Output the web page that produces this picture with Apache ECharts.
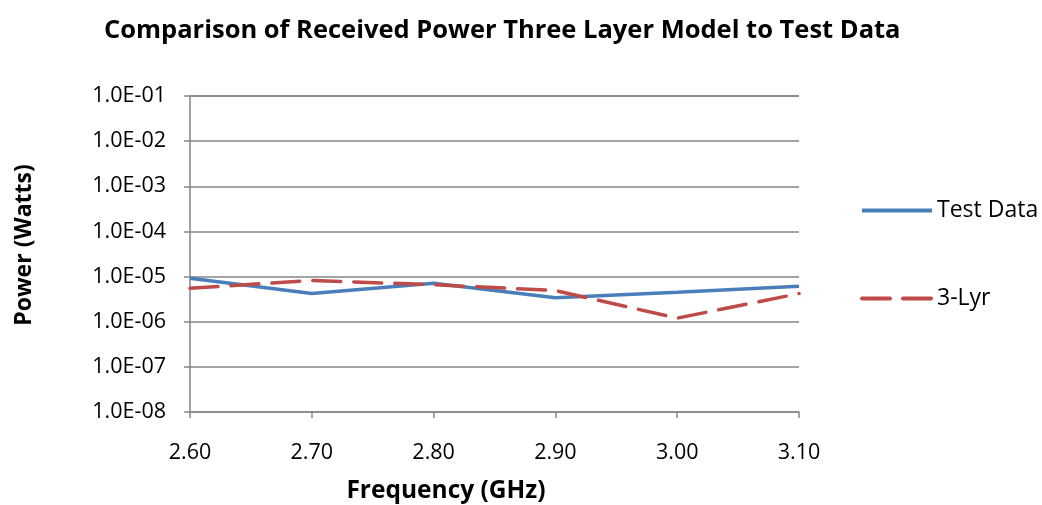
<!DOCTYPE html>
<html>
<head>
<meta charset="utf-8">
<script src="https://cdn.jsdelivr.net/npm/echarts@6/dist/echarts.min.js"></script>
<style>
html,body{margin:0;padding:0;background:#fff;}
#chart{width:1042px;height:505px;}
</style>
</head>
<body>
<div id="chart"></div>
<script>
const categories = ['2.60', '2.70', '2.80', '2.90', '3.00', '3.10'];
const testData = [9.2e-6, 4.2e-6, 7.1e-6, 3.4e-6, 4.5e-6, 6.1e-6];
const threeLyr = [5.5e-6, 8.2e-6, 6.6e-6, 4.9e-6, 1.2e-6, 4.2e-6];
const seriesNames = ['Test Data', '3-Lyr'];

const FONT = 'Open Sans';
function fmtExp(v) {
  const e = Math.round(Math.log10(v));
  const m = v / Math.pow(10, e);
  const sign = e < 0 ? '-' : '+';
  const abs = Math.abs(e);
  return m.toFixed(1) + 'E' + sign + (abs < 10 ? '0' + abs : '' + abs);
}

const chart = echarts.init(document.getElementById('chart'));
chart.setOption({
  backgroundColor: '#ffffff',
  animation: false,
  title: {
    text: 'Comparison of Received Power Three Layer Model to Test Data',
    left: 104,
    top: 18,
    padding: 0,
    textStyle: { fontFamily: FONT, fontWeight: 'bold', fontSize: 25.5, color: '#000' }
  },
  legend: {
    orient: 'vertical',
    left: 860,
    top: 199,
    padding: 0,
    itemWidth: 70,
    itemHeight: 24,
    itemGap: 65,
    data: seriesNames,
    itemStyle: { color: 'transparent', borderWidth: 0 },
    lineStyle: { width: 4 },
    textStyle: { fontFamily: FONT, fontSize: 23, color: '#000', padding: [0, 0, 0, 0] }
  },
  grid: { left: 190, right: 243, top: 96, bottom: 93, containLabel: false, outerBoundsMode: 'none' },
  xAxis: {
    type: 'category',
    data: categories,
    boundaryGap: false,
    name: 'Frequency (GHz)',
    nameLocation: 'middle',
    nameGap: 67,
    nameTextStyle: { fontFamily: FONT, fontWeight: 'bold', fontSize: 24.5, color: '#000', padding: [0, 97, 0, 0] },
    axisLine: { lineStyle: { color: '#868686', width: 1.5 } },
    axisTick: { show: true, length: 6, lineStyle: { color: '#868686', width: 1.5 } },
    axisLabel: { margin: 30, fontFamily: FONT, fontSize: 21.5, color: '#000' },
    splitLine: { show: false }
  },
  yAxis: {
    type: 'log',
    logBase: 10,
    min: 1e-8,
    max: 1e-1,
    name: 'Power (Watts)',
    nameLocation: 'middle',
    nameGap: 154,
    nameTextStyle: { fontFamily: FONT, fontWeight: 'bold', fontSize: 23, color: '#000', padding: [0, 0, 0, 18] },
    axisLine: { show: true, lineStyle: { color: '#868686', width: 1.5 } },
    axisTick: { show: true, length: 6, lineStyle: { color: '#868686', width: 1.5 } },
    axisLabel: { margin: 24, fontFamily: FONT, fontSize: 21.5, color: '#000', formatter: fmtExp },
    splitLine: { show: true, lineStyle: { color: '#868686', width: 1.5 } }
  },
  series: [
    {
      name: seriesNames[0],
      type: 'line',
      data: testData,
      symbol: 'none',
      color: '#4a7ebb',
      lineStyle: { color: '#4a7ebb', width: 3.5 }
    },
    {
      name: seriesNames[1],
      type: 'line',
      data: threeLyr,
      symbol: 'none',
      color: '#be4b48',
      lineStyle: { color: '#be4b48', width: 3.5, type: [28, 13], cap: 'round' }
    }
  ]
});
</script>
</body>
</html>
